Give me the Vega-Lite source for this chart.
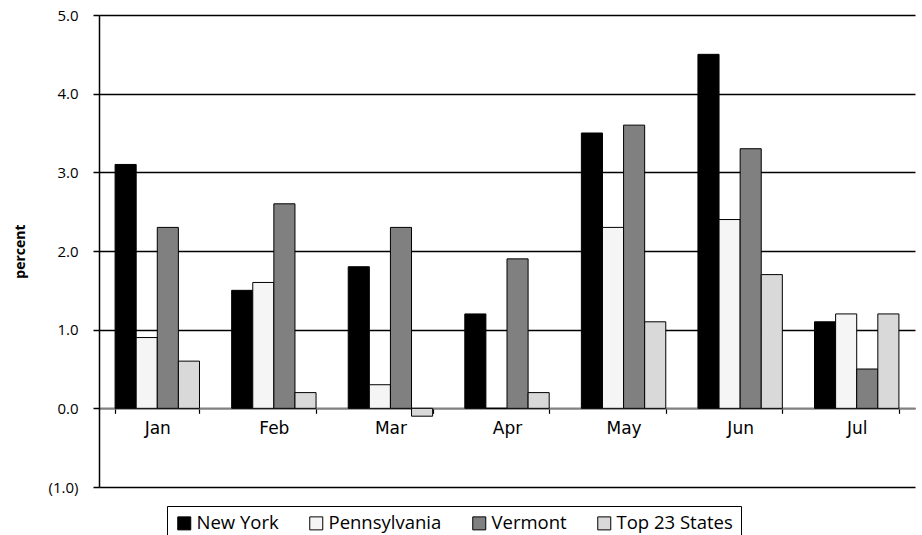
{
  "$schema": "https://vega.github.io/schema/vega-lite/v6.json",
  "width": 816,
  "height": 472,
  "autosize": {"type": "none"},
  "padding": {"left": 99, "top": 15, "right": 7, "bottom": 48},
  "background": "white",
  "config": {"view": {"stroke": null}},
  "data": {
    "values": [
      {"month": "Jan", "series": "New York", "value": 3.1},
      {"month": "Jan", "series": "Pennsylvania", "value": 0.9},
      {"month": "Jan", "series": "Vermont", "value": 2.3},
      {"month": "Jan", "series": "Top 23 States", "value": 0.6},
      {"month": "Feb", "series": "New York", "value": 1.5},
      {"month": "Feb", "series": "Pennsylvania", "value": 1.6},
      {"month": "Feb", "series": "Vermont", "value": 2.6},
      {"month": "Feb", "series": "Top 23 States", "value": 0.2},
      {"month": "Mar", "series": "New York", "value": 1.8},
      {"month": "Mar", "series": "Pennsylvania", "value": 0.3},
      {"month": "Mar", "series": "Vermont", "value": 2.3},
      {"month": "Mar", "series": "Top 23 States", "value": -0.1},
      {"month": "Apr", "series": "New York", "value": 1.2},
      {"month": "Apr", "series": "Pennsylvania", "value": 0.0},
      {"month": "Apr", "series": "Vermont", "value": 1.9},
      {"month": "Apr", "series": "Top 23 States", "value": 0.2},
      {"month": "May", "series": "New York", "value": 3.5},
      {"month": "May", "series": "Pennsylvania", "value": 2.3},
      {"month": "May", "series": "Vermont", "value": 3.6},
      {"month": "May", "series": "Top 23 States", "value": 1.1},
      {"month": "Jun", "series": "New York", "value": 4.5},
      {"month": "Jun", "series": "Pennsylvania", "value": 2.4},
      {"month": "Jun", "series": "Vermont", "value": 3.3},
      {"month": "Jun", "series": "Top 23 States", "value": 1.7},
      {"month": "Jul", "series": "New York", "value": 1.1},
      {"month": "Jul", "series": "Pennsylvania", "value": 1.2},
      {"month": "Jul", "series": "Vermont", "value": 0.5},
      {"month": "Jul", "series": "Top 23 States", "value": 1.2}
    ]
  },
  "mark": {"type": "bar", "stroke": "black", "strokeWidth": 1},
  "encoding": {
    "x": {
      "field": "month",
      "type": "nominal",
      "sort": ["Jan", "Feb", "Mar", "Apr", "May", "Jun", "Jul"],
      "scale": {"paddingInner": 0.276, "paddingOuter": 0.138},
      "axis": {
        "title": null,
        "offset": -78.67,
        "labelAngle": 0,
        "tickBand": "extent",
        "domainColor": "#808080",
        "domainWidth": 1.5,
        "tickColor": "black",
        "tickSize": 5,
        "tickWidth": 1.2,
        "labelPadding": 7,
        "labelFont": "DejaVu Sans",
        "labelFontSize": 17,
        "labelColor": "black",
        "grid": false
      }
    },
    "xOffset": {
      "field": "series",
      "type": "nominal",
      "sort": ["New York", "Pennsylvania", "Vermont", "Top 23 States"],
      "scale": {"paddingInner": 0, "paddingOuter": 0}
    },
    "y": {
      "field": "value",
      "type": "quantitative",
      "scale": {"domain": [-1, 5], "nice": false, "zero": false},
      "axis": {
        "title": "percent",
        "titleFont": "Open Sans",
        "titleFontSize": 14,
        "titleFontWeight": "bold",
        "titleColor": "black",
        "titlePadding": 21,
        "values": [-1, 0, 1, 2, 3, 4, 5],
        "labelExpr": "datum.value < 0 ? '(' + format(-datum.value, '.1f') + ')' : format(datum.value, '.1f')",
        "labelFont": "Open Sans",
        "labelFontSize": 15,
        "labelColor": "black",
        "labelPadding": 15,
        "domainColor": "black",
        "domainWidth": 1.5,
        "tickColor": "black",
        "tickSize": 6,
        "tickWidth": 1.5,
        "grid": true,
        "gridColor": "black",
        "gridWidth": 1.3,
        "gridOpacity": 1
      }
    },
    "color": {
      "field": "series",
      "type": "nominal",
      "sort": ["New York", "Pennsylvania", "Vermont", "Top 23 States"],
      "scale": {
        "domain": ["New York", "Pennsylvania", "Vermont", "Top 23 States"],
        "range": ["#000000", "#f5f5f5", "#808080", "#d9d9d9"]
      },
      "legend": {
        "title": null,
        "orient": "none",
        "direction": "horizontal",
        "legendX": 68,
        "legendY": 491,
        "strokeColor": "black",
        "padding": 8,
        "symbolType": "square",
        "symbolSize": 169,
        "symbolStrokeColor": "black",
        "symbolStrokeWidth": 1,
        "symbolOpacity": 1,
        "labelFont": "Open Sans",
        "labelFontSize": 18.5,
        "labelColor": "black",
        "columnPadding": 28,
        "labelOffset": 3
      }
    }
  }
}
